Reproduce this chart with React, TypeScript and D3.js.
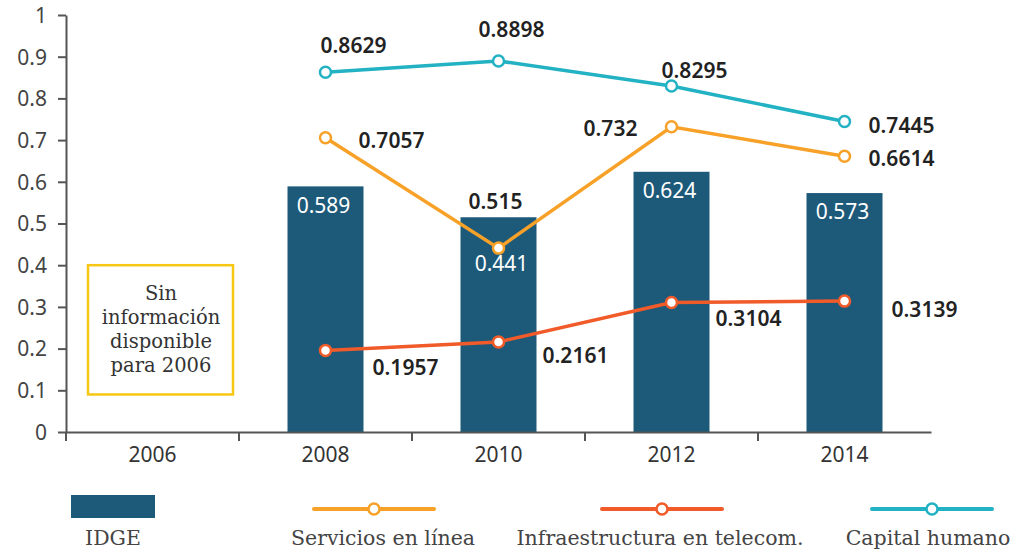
import React, { useRef, useEffect } from "react";
import * as d3 from "d3";

const years = ["2006", "2008", "2010", "2012", "2014"];
const idge = [null, 0.589, 0.515, 0.624, 0.573];
const servicios = [null, 0.7057, 0.441, 0.732, 0.6614];
const infra = [null, 0.1957, 0.2161, 0.3104, 0.3139];
const capital = [null, 0.8629, 0.8898, 0.8295, 0.7445];
const yTicks = [0, 0.1, 0.2, 0.3, 0.4, 0.5, 0.6, 0.7, 0.8, 0.9, 1];

const servLabels = ["", "0.7057", "0.441", "0.732", "0.6614"];
const infraLabels = ["", "0.1957", "0.2161", "0.3104", "0.3139"];
const capLabels = ["", "0.8629", "0.8898", "0.8295", "0.7445"];

const BLUE = "#1d5a7a";
const ORANGE = "#f7a128";
const RED = "#f15a29";
const TEAL = "#22b2c3";
const GRAY = "#555";

const App = () => {
  const svgRef = useRef(null);

  useEffect(() => {
    const svg = d3.select(svgRef.current);
    svg.selectAll("*").remove();
    const margin = { left: 66, top: 15, bottom: 117 },
      width = 865,
      height = 549 - margin.top - margin.bottom;

    const x = d3.scaleBand().domain(years).range([margin.left, margin.left + width]);
    const y = d3.scaleLinear().domain([0, 1]).range([margin.top + height, margin.top]);
    const cx = (i) => x(years[i]) + x.bandwidth() / 2;

    const sans = "'Noto Sans', sans-serif";
    const serif = "'DejaVu Serif', serif";

    // bars
    const bars = idge.map((v, i) => ({ v, i })).filter((d) => d.v != null);
    svg.selectAll(".bar").data(bars).enter().append("rect")
      .attr("x", (d) => cx(d.i) - 38)
      .attr("width", 76)
      .attr("y", (d) => y(d.v))
      .attr("height", (d) => y(0) - y(d.v))
      .attr("fill", BLUE);

    // bar labels
    svg.selectAll(".barlab").data(bars).enter().append("text")
      .attr("x", (d) => cx(d.i) + (d.i === 2 ? -3 : -2))
      .attr("y", (d) => (d.i === 2 ? y(d.v) - 16 : y(d.v) + 19))
      .attr("dy", "0.35em")
      .attr("text-anchor", "middle")
      .attr("font-family", sans)
      .attr("font-size", 21)
      .attr("font-weight", (d) => (d.i === 2 ? 600 : 400))
      .attr("fill", (d) => (d.i === 2 ? "#222" : "#fff"))
      .text((d) => d.v.toFixed(3));

    // axes
    const yAxis = d3.axisLeft(y).tickValues(yTicks).tickSize(8).tickSizeOuter(0).tickFormat((d) => String(d));
    const ga = svg.append("g").attr("transform", `translate(${margin.left},0)`).call(yAxis);
    ga.select(".domain").attr("stroke", GRAY).attr("stroke-width", 2);
    ga.selectAll(".tick line").attr("stroke", GRAY).attr("stroke-width", 2);
    ga.selectAll(".tick text").attr("font-family", sans).attr("font-size", 21).attr("fill", "#444").attr("x", -19).attr("dy", "0.35em");

    const xAxis = d3.axisBottom(x).tickSize(0).tickSizeOuter(0);
    const gx = svg.append("g").attr("transform", `translate(0,${y(0)})`).call(xAxis);
    gx.select(".domain").attr("stroke", GRAY).attr("stroke-width", 2);
    gx.selectAll(".tick text").attr("font-family", sans).attr("font-size", 21).attr("fill", "#333").attr("y", 23).attr("dy", "0.35em");
    gx.selectAll(".sep").data(years).enter().append("line")
      .attr("x1", (d) => x(d)).attr("x2", (d) => x(d))
      .attr("y1", 0).attr("y2", 9)
      .attr("stroke", GRAY).attr("stroke-width", 2);

    // lines
    const series = [
      { vals: infra, color: RED, labels: infraLabels, off: [[0, 0], [80, 17], [77, 14], [77, 16], [80, 9]] },
      { vals: servicios, color: ORANGE, labels: servLabels, off: [[0, 0], [66, 3], [3, 16], [-61, 2], [57, 2]] },
      { vals: capital, color: TEAL, labels: capLabels, off: [[0, 0], [28, -27], [13, -31], [23, -15], [57, 4]] },
    ];
    const line = d3.line().x((d) => cx(d.i)).y((d) => y(d.v)).curve(d3.curveLinear);
    series.forEach((s) => {
      const pts = s.vals.map((v, i) => ({ v, i })).filter((d) => d.v != null);
      svg.append("path").datum(pts).attr("d", line).attr("fill", "none").attr("stroke", s.color).attr("stroke-width", 3.5);
      svg.selectAll(null).data(pts).enter().append("circle")
        .attr("cx", (d) => cx(d.i)).attr("cy", (d) => y(d.v)).attr("r", 5.5)
        .attr("fill", "#fff").attr("stroke", s.color).attr("stroke-width", 2.5);
      svg.selectAll(null).data(pts).enter().append("text")
        .attr("x", (d) => cx(d.i) + s.off[d.i][0])
        .attr("y", (d) => y(d.v) + s.off[d.i][1])
        .attr("dy", "0.35em")
        .attr("text-anchor", "middle")
        .attr("font-family", sans)
        .attr("font-size", 21)
        .attr("font-weight", (d) => (s.vals === servicios && d.i === 2 ? 400 : 600))
        .attr("fill", (d) => (s.vals === servicios && d.i === 2 ? "#fff" : "#222"))
        .text((d) => s.labels[d.i]);
    });

    // no-data box
    const bx = cx(0) - 64.5, by = y(0.4);
    svg.append("rect").attr("x", bx).attr("y", by).attr("width", 145).attr("height", y(0.09) - by)
      .attr("fill", "none").attr("stroke", "#f8c714").attr("stroke-width", 2.5);
    const boxLines = ["Sin", "información", "disponible", "para 2006"];
    svg.selectAll(".boxt").data(boxLines).enter().append("text")
      .attr("x", bx + 73).attr("y", (d, i) => by + 28 + i * 24)
      .attr("dy", "0.35em")
      .attr("text-anchor", "middle").attr("font-family", serif).attr("font-size", 19.5).attr("fill", "#333")
      .text((d) => d);

    // legend
    const legY = 509;
    svg.append("rect").attr("x", 71).attr("y", 495).attr("width", 84).attr("height", 23).attr("fill", BLUE);
    svg.append("text").attr("x", 113).attr("y", 538).attr("dy", "0.35em").attr("text-anchor", "middle")
      .attr("font-family", serif).attr("font-size", 20.5).attr("fill", "#444").text("IDGE");
    const legs = [
      { name: "Servicios en línea", color: ORANGE, c: 374, t: 383 },
      { name: "Infraestructura en telecom.", color: RED, c: 662, t: 660 },
      { name: "Capital humano", color: TEAL, c: 932, t: 928 },
    ];
    legs.forEach((l) => {
      svg.append("line").attr("x1", l.c - 60).attr("x2", l.c + 60).attr("y1", legY).attr("y2", legY)
        .attr("stroke", l.color).attr("stroke-width", 4).attr("stroke-linecap", "round");
      svg.append("circle").attr("cx", l.c).attr("cy", legY).attr("r", 5.5)
        .attr("fill", "#fff").attr("stroke", l.color).attr("stroke-width", 2.5);
      svg.append("text").attr("x", l.t).attr("y", 538).attr("dy", "0.35em").attr("text-anchor", "middle")
        .attr("font-family", serif).attr("font-size", 20.5).attr("fill", "#444").text(l.name);
    });
  }, []);

  return (
    <svg ref={svgRef} width={1027} height={549} style={{ position: "absolute", left: 0, top: 0, background: "#fff" }}></svg>
  );
};

export default App;
